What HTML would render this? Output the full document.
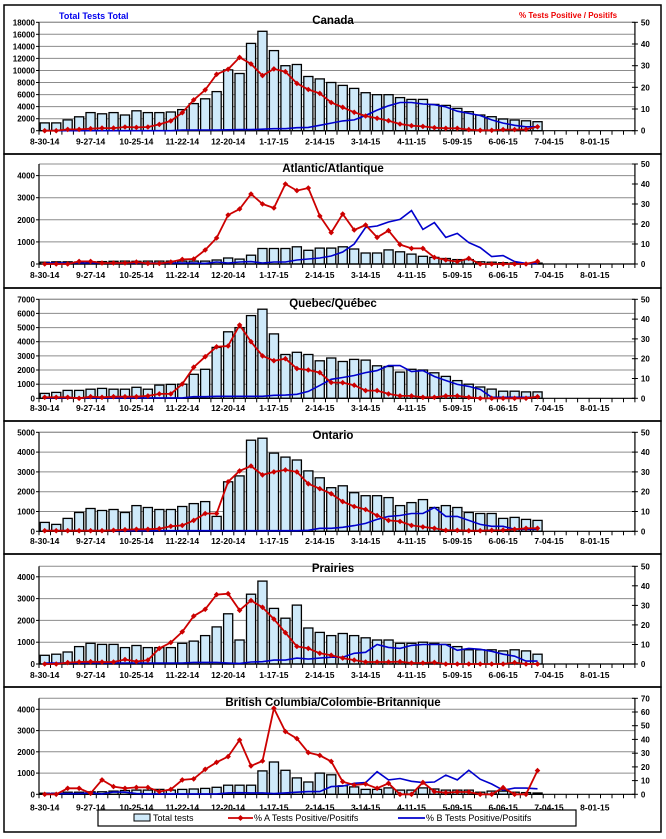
<!DOCTYPE html>
<html><head><meta charset="utf-8"><style>
html,body{margin:0;padding:0;background:#fff;}
svg{display:block;font-family:"Liberation Sans",Arial,sans-serif;}
</style></head><body>
<svg id="s" width="666" height="839" xmlns="http://www.w3.org/2000/svg"></svg>
<script>
var S=document.getElementById('s');var h='';
var X0=39,CW=11.46;
function cx(i){return X0+CW*(i+0.5);}
var labs=["8-30-14","9-27-14","10-25-14","11-22-14","12-20-14","1-17-15","2-14-15","3-14-15","4-11-15","5-09-15","6-06-15","7-04-15","8-01-15"];
var P=[
{t:22.3,b:130.7,lm:18000,ls:2000,lt:18000,rm:50,rs:10,ly:144.5,title:"Canada",ty:24,
bars:[1300,1300,1800,2300,3000,2800,3000,2600,3300,3000,3000,3100,3500,4500,5300,6500,10100,9500,14500,16500,13300,10800,11000,9000,8600,8000,7530,7030,6310,5980,5980,5500,5200,5200,4375,4200,3710,3160,2600,2330,1940,1770,1650,1500],
A:[0,0,.6,.6,.9,1.2,1.2,1.7,1.5,1.7,2.9,4.5,8.3,14.2,18.8,26,28.3,33.8,30.8,25.4,28.5,27.2,21.8,19,17.2,13,10.8,8.5,6.8,5.7,4.6,3.1,2.3,2,1.4,1.1,1.1,.5,.2,.2,.5,.5,.6,1.8],
B:[0,0,0,0,0,0,0,0,0,0,0,0,.3,.3,.3,.3,.4,.5,.5,.7,.9,.9,1.4,1.5,2.5,3.5,4.5,5,7,9.5,11.5,13,13,12.3,12,11,9,8,7,5,3.5,2.5,1.8,1.8]},
{t:164,b:264,lm:4525,ls:1000,lt:4000,rm:50,rs:10,ly:278,title:"Atlantic/Atlantique",ty:172,
bars:[80,100,100,90,100,110,120,130,120,130,130,130,130,130,130,180,270,220,400,700,700,700,780,620,720,720,780,680,500,500,640,550,450,350,300,250,200,200,100,80,60,50,40,40],
A:[0,0,0,1.3,1.3,.5,.5,.5,1,.3,.3,1,2.3,2.5,7,13,24.5,27.5,35,30,28,40,36.7,38,24,15.7,25,17,19.5,13.3,16.7,9.7,7.8,7.8,3.3,2,1.2,2.8,0,0,0,0,0,1.3],
B:[.5,.5,.5,.5,.5,.5,.5,.5,.5,.5,.5,.5,.5,.5,.3,1,.5,1,1.2,.5,1,1,2,2.5,3,4,6,10,18.3,19,21,22.3,26.7,17.3,20.7,13.3,15.3,10.7,8.2,3.7,4.2,1.2,.3,.3]},
{t:299.3,b:398.3,lm:7000,ls:1000,lt:7000,rm:50,rs:10,ly:411,title:"Quebec/Québec",ty:307,
bars:[350,420,560,560,640,700,640,640,780,640,930,980,1000,1700,2050,3600,4700,5000,5850,6300,4550,3100,3250,3100,2650,2850,2600,2750,2700,2300,2250,1850,2050,2000,1800,1550,1250,1000,800,650,500,500,450,450],
A:[.5,.5,.5,0,.8,.5,.8,.8,.8,1.2,2.2,2.2,7.2,15.7,21,26,26.4,37,28.6,21.4,19,20,15,14.3,13,8,7.9,6.6,3.9,3.9,2.2,1.2,1.2,.5,.5,1.2,1.2,.5,0,0,0,0,0,.8],
B:[.2,.2,.2,.2,.2,.2,.2,.2,.2,.2,.2,.2,.2,.8,.8,1,1,1,1,1,1.5,1.6,2,3.5,6.5,9.6,10.5,11.5,13,14,16.5,16.5,13.5,14,11,9,7,6,4.5,.5,.5,.5,.5,.5]},
{t:432.3,b:531.3,lm:5000,ls:1000,lt:5000,rm:50,rs:10,ly:544,title:"Ontario",ty:439,
bars:[450,350,650,950,1150,1050,1100,950,1300,1200,1100,1100,1250,1400,1500,750,2500,2800,4600,4700,3950,3750,3600,3050,2700,2200,2300,1950,1800,1800,1700,1300,1450,1600,1200,1300,1200,950,900,900,650,700,600,550],
A:[.3,.3,.3,.3,.3,.3,.5,.8,1,1,1.3,2.5,3,5.5,9,9,25,30.5,33,28.5,30,31,30,24,21.5,19,15,12.5,11,8,5.5,5,3,2.2,1.5,.5,.5,.3,.3,.5,.6,1,1.5,1.5],
B:[.3,.3,.3,.3,.3,.3,.3,.3,.3,.3,.3,.3,.3,.3,.3,.3,.3,.3,.3,.3,.3,.3,.3,.5,1.5,1.5,2,2.9,4,6,7.5,8,9,9,12,7.5,7.5,5.5,3.5,2.5,2.5,1,1,1]},
{t:566.3,b:664,lm:4480,ls:1000,lt:4000,rm:50,rs:10,ly:678,title:"Prairies",ty:572,
bars:[400,450,550,800,950,900,900,750,850,750,750,750,950,1050,1300,1700,2300,1100,3200,3800,2550,2100,2700,1650,1450,1300,1400,1300,1200,1100,1100,950,950,1000,950,900,800,650,650,650,600,650,600,450],
A:[0,0,.7,1,1.2,1,1,2.3,1.3,2,8,11,16.5,24.5,28,35.5,36,27.5,32.5,29,23,16,9,8,5.5,4.5,3,2,1,1,1,1.2,.5,.5,.8,0,0,0,0,0,0,.7,0,0],
B:[.5,.5,.5,.5,.5,.5,.5,.5,.5,.5,.5,.5,.5,.8,.8,.8,.5,.3,1,1.2,2,2,3,2.5,3,3.5,3.5,5.5,6,10,8.5,8,9.5,10,10,10,7,8,7.5,6.5,5,4,1.5,1.5]},
{t:698.3,b:794.3,lm:4520,ls:1000,lt:4000,rm:70,rs:10,ly:810.5,title:"British Columbia/Colombie-Britannique",ty:706,
bars:[50,50,100,100,120,120,150,180,200,200,230,200,230,250,280,330,430,430,430,1100,1520,1130,770,580,1000,920,400,350,230,230,300,200,200,300,250,200,200,200,100,150,150,100,80,60],
A:[0,0,4.4,4.4,.7,10.5,5.6,4.4,5,5,2,3.6,10.5,11.2,18.2,23.3,27.5,39.6,20.7,24.3,62.7,45.7,40.6,30.4,28.4,24,9.2,6.8,7.5,4.4,8,0,0,8.7,2,1.2,1.7,1.7,0,0,4.9,0,0,17.3],
B:[.5,.5,.5,.5,1,.3,1.7,1.5,.5,.3,.3,.3,.3,.3,.3,.3,1,1.2,1,1,.5,1,1.5,2,2,5.6,6,8,8.5,16.5,10.5,11.5,9.5,8.5,9,14,10.5,17.5,11,7.5,3,4.5,4.5,4]}
];
var borders=[[5,154],[154,288],[288,421],[421,554],[554,687],[687,832]];
borders.forEach(function(b){h+='<rect x="4" y="'+b[0]+'" width="657" height="'+(b[1]-b[0])+'" fill="none" stroke="#000" stroke-width="1.5"/>';});
var XR=X0+CW*52;
P.forEach(function(p){
 var H=p.b-p.t;
 function yl(v){return p.b-v/p.lm*H;}
 function yr(v){return p.b-v/p.rm*H;}
 // gridlines
 for(var v=p.ls;v<=p.lt+1;v+=p.ls){h+='<line x1="'+X0+'" x2="'+XR+'" y1="'+yl(v).toFixed(1)+'" y2="'+yl(v).toFixed(1)+'" stroke="#8c8c8c" stroke-width="1"/>';}
 h+='<line x1="'+X0+'" x2="'+XR+'" y1="'+p.t+'" y2="'+p.t+'" stroke="#8c8c8c" stroke-width="1"/>';
 // left labels
 for(var v=0;v<=p.lt+1;v+=p.ls){var y=yl(v);h+='<text x="'+(X0-4)+'" y="'+(y+3).toFixed(1)+'" font-size="8" font-weight="bold" text-anchor="end">'+v+'</text>';h+='<line x1="'+(X0-3)+'" x2="'+X0+'" y1="'+y.toFixed(1)+'" y2="'+y.toFixed(1)+'" stroke="#000"/>';}
 // right labels
 for(var v=0;v<=p.rm;v+=p.rs){var y=yr(v);h+='<text x="'+(XR+6)+'" y="'+(y+3).toFixed(1)+'" font-size="8" font-weight="bold">'+v+'</text>';h+='<line x1="'+(XR-3)+'" x2="'+(XR+3)+'" y1="'+y.toFixed(1)+'" y2="'+y.toFixed(1)+'" stroke="#000"/>';}
 // bars
 p.bars.forEach(function(v,i){var x=X0+CW*i+1.2,y=yl(v);h+='<rect x="'+x.toFixed(1)+'" y="'+y.toFixed(1)+'" width="'+(CW-2.4).toFixed(1)+'" height="'+(p.b-y).toFixed(1)+'" fill="#cfeafa" stroke="#000" stroke-width="1.3"/>';});
 // axes
 h+='<line x1="'+X0+'" x2="'+X0+'" y1="'+p.t+'" y2="'+p.b+'" stroke="#000" stroke-width="1.2"/>';
 h+='<line x1="'+XR+'" x2="'+XR+'" y1="'+p.t+'" y2="'+p.b+'" stroke="#000" stroke-width="1.2"/>';
 h+='<line x1="'+X0+'" x2="'+XR+'" y1="'+p.b+'" y2="'+p.b+'" stroke="#000" stroke-width="1.2"/>';
 for(var i=0;i<=52;i++){var x=X0+CW*i;h+='<line x1="'+x.toFixed(1)+'" x2="'+x.toFixed(1)+'" y1="'+p.b+'" y2="'+(p.b+4)+'" stroke="#000"/>';}
 labs.forEach(function(l,k){h+='<text x="'+cx(k*4).toFixed(1)+'" y="'+p.ly+'" font-size="8.5" font-weight="bold" text-anchor="middle">'+l+'</text>';});
 // B line
 var pts=p.B.map(function(v,i){return cx(i).toFixed(1)+','+yr(v).toFixed(1);}).join(' ');
 h+='<polyline points="'+pts+'" fill="none" stroke="#0000cc" stroke-width="1.6"/>';
 var pa=p.A.map(function(v,i){return cx(i).toFixed(1)+','+yr(v).toFixed(1);}).join(' ');
 h+='<polyline points="'+pa+'" fill="none" stroke="#cc0000" stroke-width="1.8"/>';
 p.A.forEach(function(v,i){var x=cx(i),y=yr(v);h+='<polygon points="'+x.toFixed(1)+','+(y-2.8).toFixed(1)+' '+(x+2.8).toFixed(1)+','+y.toFixed(1)+' '+x.toFixed(1)+','+(y+2.8).toFixed(1)+' '+(x-2.8).toFixed(1)+','+y.toFixed(1)+'" fill="#cc0000"/>';});
 h+='<text x="333" y="'+p.ty+'" font-size="11.5" font-weight="bold" text-anchor="middle">'+p.title+'</text>';
});
h+='<text x="59" y="19" font-size="9" font-weight="bold" fill="#0000ee">Total Tests Total</text>';
h+='<text x="519" y="18" font-size="8" font-weight="bold" fill="#ee0000">% Tests Positive / Positifs</text>';
// legend
h+='<rect x="98" y="810" width="478" height="16" fill="#fff" stroke="#000" stroke-width="1.2"/>';
h+='<rect x="134" y="814" width="16" height="7" fill="#cfeafa" stroke="#000"/>';
h+='<text x="153" y="821" font-size="9">Total tests</text>';
h+='<line x1="228" x2="253" y1="818" y2="818" stroke="#cc0000" stroke-width="1.8"/><polygon points="240.5,815 243.5,818 240.5,821 237.5,818" fill="#cc0000"/>';
h+='<text x="254" y="821" font-size="9">% A Tests Positive/Positifs</text>';
h+='<line x1="398" x2="425" y1="818" y2="818" stroke="#0000cc" stroke-width="1.8"/>';
h+='<text x="426" y="821" font-size="9">% B Tests Positive/Positifs</text>';
S.innerHTML=h;
</script>
</body></html>
